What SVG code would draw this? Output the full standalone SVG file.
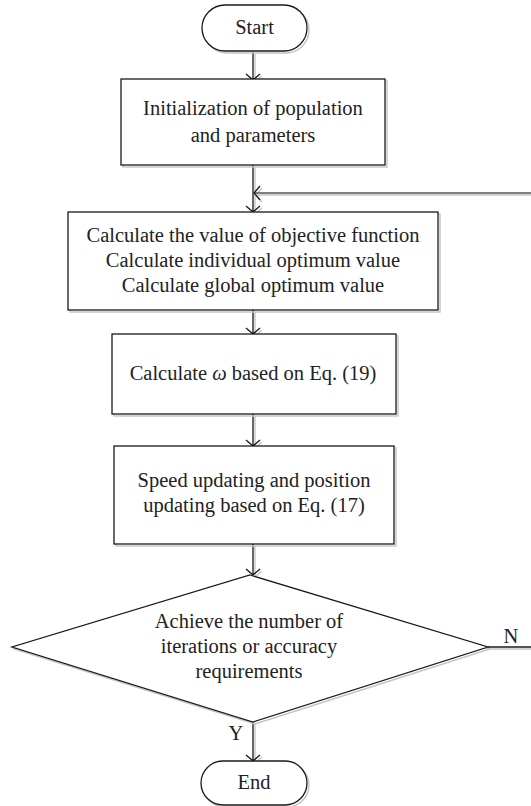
<svg xmlns="http://www.w3.org/2000/svg" width="531" height="806" viewBox="0 0 531 806">
<defs>
<style>
.s{fill:none;stroke:#c4c4c4;stroke-width:1.4}
.b{fill:none;stroke:#1a1a1a;stroke-width:1.3}
.w{fill:#fff}
.t{font-family:"Liberation Serif","Times New Roman",serif;font-size:20.5px;fill:#222;text-anchor:middle}
.c{fill:none;stroke:#1a1a1a;stroke-width:1.3}
.cs{fill:none;stroke:#c4c4c4;stroke-width:1.3}
</style>
</defs>
<rect width="531" height="806" fill="#fff"/>
<g id="connectors">
<path class="cs" d="M255 54V82M248 76l7 6 7-6"/>
<path class="cs" d="M255 167V214M248 208l7 6 7-6"/>
<path class="cs" d="M255 312V336M248 330l7 6 7-6"/>
<path class="cs" d="M255 416V448M248 442l7 6 7-6"/>
<path class="cs" d="M255 546V577M248 571l7 6 7-6"/>
<path class="cs" d="M255 724V763M248 757l7 6 7-6"/>
<path class="cs" d="M531 195H256M262 188l-6 7 6 7"/>
<path class="cs" d="M490 649H531"/>
<path class="c" d="M253 52V80M246 74l7 6 7-6"/>
<path class="c" d="M253 165V212M246 206l7 6 7-6"/>
<path class="c" d="M253 310V334M246 328l7 6 7-6"/>
<path class="c" d="M253 414V446M246 440l7 6 7-6"/>
<path class="c" d="M253 544V575M246 569l7 6 7-6"/>
<path class="c" d="M253 722V761M246 755l7 6 7-6"/>
<path d="M531 193H254" fill="none" stroke="#555" stroke-width="1.6"/>
<path class="c" d="M260 186l-6 7 6 7"/>
<path class="c" d="M488 647H531"/>
<text class="t" x="511" y="643">N</text>
<text class="t" x="236" y="740">Y</text>
</g>
<g id="start">
<rect class="s" x="204" y="7" width="105" height="46" rx="23"/>
<rect class="b w" x="202" y="5" width="105" height="46" rx="23"/>
<text class="t" x="254.5" y="34">Start</text>
</g>
<g id="init">
<rect class="s" x="123" y="81" width="264" height="86"/>
<rect class="b w" x="121" y="79" width="264" height="86"/>
<text class="t" x="253" y="115">Initialization of population</text>
<text class="t" x="253" y="142">and parameters</text>
</g>
<g id="calc">
<rect class="s" x="70" y="214" width="370" height="98"/>
<rect class="b w" x="68" y="212" width="370" height="98"/>
<text class="t" x="253" y="242">Calculate the value of objective function</text>
<text class="t" x="253" y="267">Calculate individual optimum value</text>
<text class="t" x="253" y="292">Calculate global optimum value</text>
</g>
<g id="omega">
<rect class="s" x="114" y="336" width="284" height="80"/>
<rect class="b w" x="112" y="334" width="284" height="80"/>
<text class="t" x="253" y="380">Calculate <tspan font-style="italic">ω</tspan> based on Eq. (19)</text>
</g>
<g id="update">
<rect class="s" x="116" y="448" width="280" height="98"/>
<rect class="b w" x="114" y="446" width="280" height="98"/>
<text class="t" x="254" y="487">Speed updating and position</text>
<text class="t" x="254" y="512">updating based on Eq. (17)</text>
</g>
<g id="decision">
<polygon class="s" points="252,577 490,649 255,724 14,649"/>
<polygon class="b w" points="250,575 488,647 253,722 12,647"/>
<text class="t" x="249" y="628">Achieve the number of</text>
<text class="t" x="249" y="653">iterations or accuracy</text>
<text class="t" x="249" y="678">requirements</text>
</g>
<g id="end">
<rect class="s" x="203" y="763" width="106" height="44" rx="22"/>
<rect class="b w" x="201" y="761" width="106" height="44" rx="22"/>
<text class="t" x="254" y="789">End</text>
</g>
</svg>
